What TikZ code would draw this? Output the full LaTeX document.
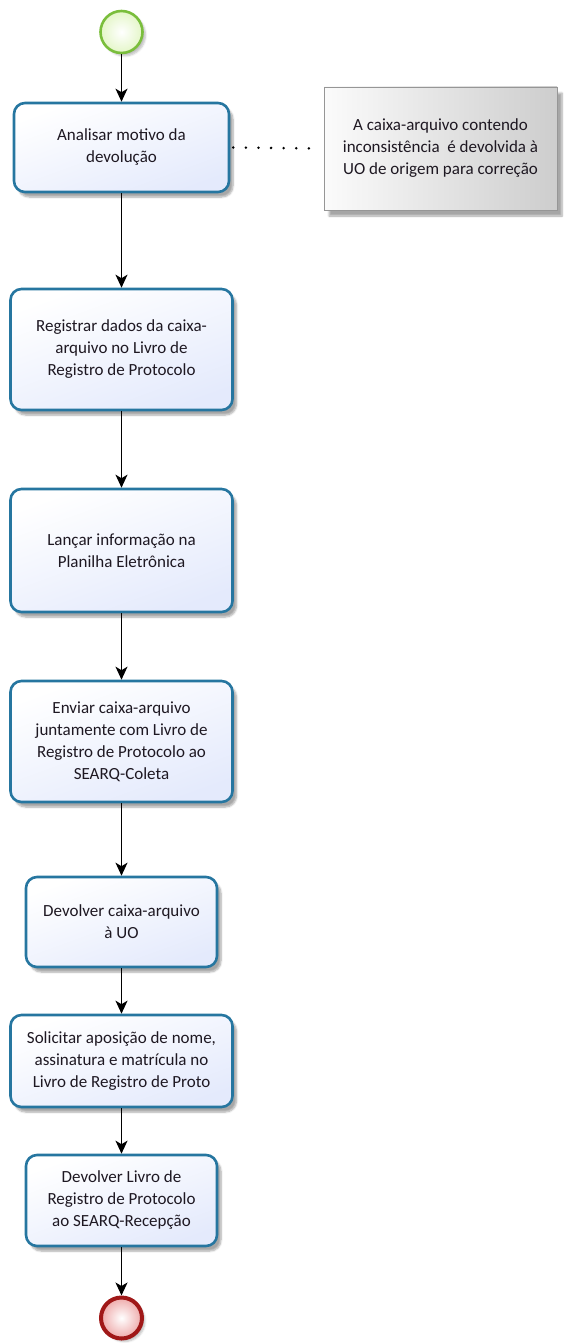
\documentclass[tikz,border=0pt]{standalone}
\usepackage{fontspec}
\setmainfont{Carlito}
\usetikzlibrary{arrows.meta,shadows,shadows.blur}

\definecolor{taskline}{RGB}{38,118,160}
\definecolor{taskfill}{RGB}{228,234,252}
\definecolor{startline}{RGB}{122,190,60}
\definecolor{startfill}{RGB}{228,246,200}
\definecolor{endline}{RGB}{160,24,24}
\definecolor{endfill}{RGB}{238,170,170}
\definecolor{notefill}{RGB}{205,205,205}
\definecolor{noteline}{RGB}{150,150,150}
\definecolor{txt}{RGB}{30,24,34}

\tikzset{
  every node/.style={font=\fontsize{17}{22}\selectfont, text=txt},
  task/.style={draw=taskline, line width=2.6pt, rounded corners=11pt,
    top color=white, bottom color=taskfill, shading angle=20,
    align=center, inner sep=0pt,
    blur shadow={shadow xshift=4pt, shadow yshift=-5pt, shadow blur steps=6, shadow opacity=35}},
  note/.style={draw=noteline, line width=0.8pt,
    left color=white!92!notefill, right color=notefill,
    align=center, inner sep=0pt,
    blur shadow={shadow xshift=5pt, shadow yshift=-6pt, shadow blur steps=6, shadow opacity=35}},
  startev/.style={circle, draw=startline, line width=2.6pt, minimum size=42pt,
    inner color=white, outer color=startfill, inner sep=0pt,
    blur shadow={shadow xshift=3pt, shadow yshift=-3pt, shadow blur steps=5, shadow opacity=25}},
  endev/.style={circle, draw=endline, line width=4pt, minimum size=41pt,
    inner color=white, outer color=endfill, inner sep=0pt,
    blur shadow={shadow xshift=3pt, shadow yshift=-3pt, shadow blur steps=5, shadow opacity=25}},
  flow/.style={draw=black, line width=1.5pt, -{Stealth[length=13pt,width=12pt,inset=3.5pt]}},
  assoc/.style={draw=black, line width=2.8pt, line cap=round, dash pattern=on 0pt off 12.6pt}
}

\begin{document}
\begin{tikzpicture}[x=1pt,y=-1pt]
\useasboundingbox (0,0) rectangle (571,1343);

\node[startev] (start) at (121.5,32) {};

\node[task, minimum width=215pt, minimum height=89pt] (t1) at (121.5,147.5)
  {Analisar motivo da\\devolução};

\node[note, minimum width=233pt, minimum height=123pt] (n1) at (440.5,148.5)
  {A caixa-arquivo contendo\\inconsistência\ \ é devolvida à\\UO de origem para correção};

\node[task, minimum width=222pt, minimum height=121pt] (t2) at (121.5,349.5)
  {Registrar dados da caixa-\\arquivo no Livro de\\Registro de Protocolo};

\node[task, minimum width=222pt, minimum height=123pt] (t3) at (121.5,550.5)
  {Lançar informação na\\Planilha Eletrônica};

\node[task, minimum width=222pt, minimum height=121pt] (t4) at (121.5,741.5)
  {Enviar caixa-arquivo\\juntamente com Livro de\\Registro de Protocolo ao\\SEARQ-Coleta};

\node[task, minimum width=191pt, minimum height=90pt] (t5) at (121.5,922)
  {Devolver caixa-arquivo\\à UO};

\node[task, minimum width=222pt, minimum height=92pt] (t6) at (121.5,1061)
  {Solicitar aposição de nome,\\assinatura e matrícula no\\Livro de Registro de Proto};

\node[task, minimum width=191pt, minimum height=91pt] (t7) at (121.5,1200.5)
  {Devolver Livro de\\Registro de Protocolo\\ao SEARQ-Recepção};

\node[endev] (end) at (121.5,1318) {};

% sequence flows
\draw[flow] (start) -- (t1);
\draw[flow] (t1) -- (t2);
\draw[flow] (t2) -- (t3);
\draw[flow] (t3) -- (t4);
\draw[flow] (t4) -- (t5);
\draw[flow] (t5) -- (t6);
\draw[flow] (t6) -- (t7);
\draw[flow] (t7) -- (end);

% association to the annotation
\coordinate (a1) at ([xshift=3pt]t1.east);
\coordinate (a2) at ([xshift=-8pt]n1.west);
\draw[assoc] (a1) -- (a2);
\end{tikzpicture}
\end{document}
